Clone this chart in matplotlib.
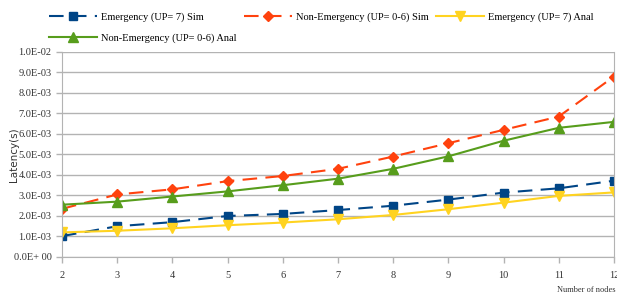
import numpy as np
import matplotlib
matplotlib.use('Agg')
import matplotlib.pyplot as plt
from matplotlib.ticker import FuncFormatter

plt.rcParams['font.family'] = ['Liberation Serif', 'DejaVu Serif']

nodes = [2, 3, 4, 5, 6, 7, 8, 9, 10, 11, 12]
emerg_sim = [1.02e-3, 1.5e-3, 1.7e-3, 2.0e-3, 2.1e-3, 2.29e-3, 2.5e-3, 2.8e-3, 3.14e-3, 3.35e-3, 3.72e-3]
nonemerg_sim = [2.35e-3, 3.05e-3, 3.3e-3, 3.7e-3, 3.95e-3, 4.3e-3, 4.9e-3, 5.55e-3, 6.2e-3, 6.85e-3, 8.8e-3]
emerg_anal = [1.2e-3, 1.28e-3, 1.4e-3, 1.55e-3, 1.68e-3, 1.84e-3, 2.05e-3, 2.33e-3, 2.65e-3, 2.98e-3, 3.15e-3]
nonemerg_anal = [2.55e-3, 2.7e-3, 2.95e-3, 3.2e-3, 3.5e-3, 3.82e-3, 4.3e-3, 4.91e-3, 5.67e-3, 6.3e-3, 6.59e-3]

fig = plt.figure(figsize=(6.17, 2.98), dpi=100)
ax = fig.add_axes([0.1005, 0.1376, 0.8945, 0.688])

l1, = ax.plot(nodes, emerg_sim, color='#004586', ls=(0, (7, 4)), lw=1.5, marker='s', ms=6,
              label='Emergency (UP= 7) Sim')
l2, = ax.plot(nodes, nonemerg_sim, color='#ff420e', ls=(0, (7, 4)), lw=1.5, marker='D', ms=5.5,
              label='Non-Emergency (UP= 0-6) Sim')
l3, = ax.plot(nodes, emerg_anal, color='#ffd320', lw=1.5, marker='v', ms=7,
              label='Emergency (UP= 7) Anal')
l4, = ax.plot(nodes, nonemerg_anal, color='#579d1c', lw=1.5, marker='^', ms=7,
              label='Non-Emergency (UP= 0-6) Anal')

ax.set_xlim(2, 12)
ax.set_ylim(0, 0.01)
ax.set_xticks(nodes)
ax.set_yticks(np.arange(0, 0.0101, 0.001))

def fmt(v, pos):
    if abs(v) < 1e-12:
        return '0.0E+ 00'
    return '%.1E' % v
ax.yaxis.set_major_formatter(FuncFormatter(fmt))

ax.grid(axis='y', color='#b3b3b3', lw=1)
ax.set_axisbelow(True)
for s in ['left', 'bottom', 'right']:
    ax.spines[s].set_color('#b3b3b3')
ax.spines['top'].set_visible(False)
ax.tick_params(axis='both', colors='#b3b3b3', labelcolor='#333333', labelsize=7.5, length=4, width=1)
ax.tick_params(axis='x', pad=6)

ax.set_ylabel('Latency(s)', fontsize=7.5, family='DejaVu Sans', color='#333333')
ax.yaxis.set_label_coords(-0.078, 0.5)
fig.text(0.997, 0.012, 'Number of nodes', fontsize=6, ha='right', va='bottom', color='#333333')

# row-major order for 3 columns
ax.legend([l1, l4, l2, l3], [l.get_label() for l in [l1, l4, l2, l3]],
          loc='lower left', bbox_to_anchor=(-0.031, 1.025), ncol=3, frameon=False,
          fontsize=7.5, handlelength=4.6, columnspacing=0.7, handletextpad=0.4,
          labelspacing=1.05, borderaxespad=0)

plt.savefig('out.png', dpi=100)
